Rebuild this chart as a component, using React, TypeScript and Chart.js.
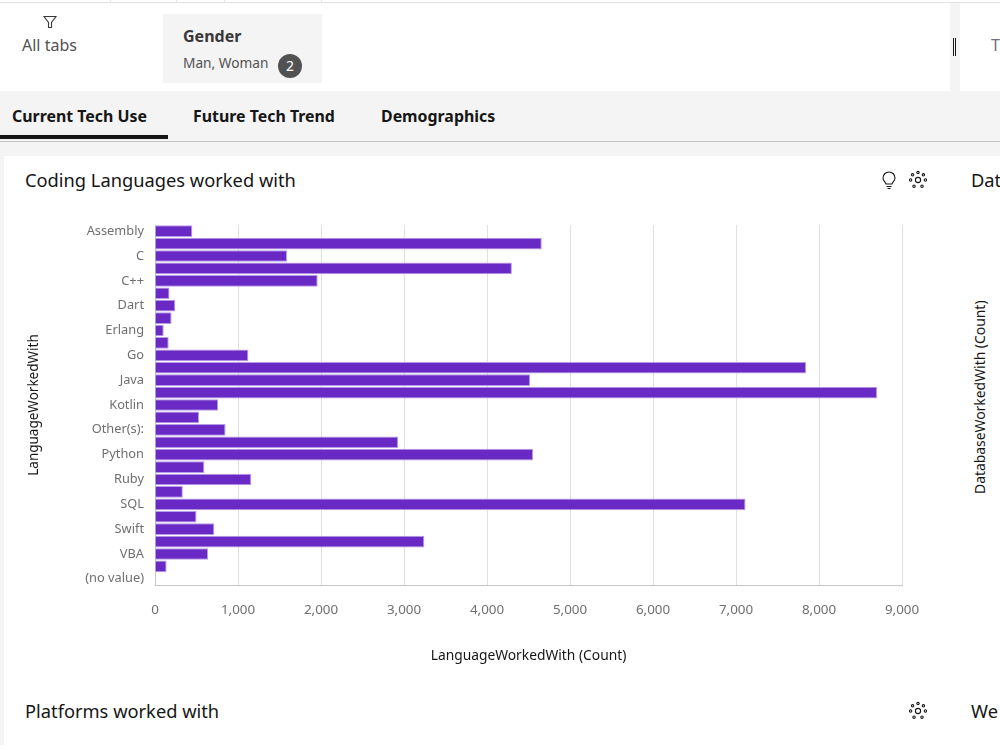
import React, { useEffect, useRef } from 'react';
import { Chart, registerables } from 'chart.js';

Chart.register(...registerables);

const languages = [
  'Assembly', 'Bash/Shell/PowerShell', 'C', 'C#', 'C++', 'Clojure', 'Dart', 'Elixir', 'Erlang', 'F#',
  'Go', 'HTML/CSS', 'Java', 'JavaScript', 'Kotlin', 'Objective-C', 'Other(s):', 'PHP', 'Python', 'R',
  'Ruby', 'Rust', 'SQL', 'Scala', 'Swift', 'TypeScript', 'VBA', 'WebAssembly', '(no value)',
];
const counts = [
  450, 4660, 1590, 4300, 1960, 175, 245, 200, 105, 165,
  1125, 7845, 4520, 8700, 760, 530, 850, 2930, 4555, 595,
  1160, 335, 7115, 500, 715, 3245, 640, 140, 0,
];
const xTicks = [0, 1000, 2000, 3000, 4000, 5000, 6000, 7000, 8000, 9000];
const topTabs = ['Current Tech Use', 'Future Tech Trend', 'Demographics'];

const FONT = '"Noto Sans", sans-serif';

const at = (left: number, top: number, extra: React.CSSProperties = {}): React.CSSProperties => ({
  position: 'absolute',
  left,
  top,
  whiteSpace: 'nowrap',
  lineHeight: 1,
  ...extra,
});

const GearIcon = ({ x, y }: { x: number; y: number }) => (
  <svg style={at(x, y)} width="20" height="20" viewBox="0 0 20 20" fill="none" stroke="#161616" strokeWidth="1.1">
    <circle cx="10" cy="10" r="2.6" />
    {[[10, 2.6], [4.6, 4.8], [15.4, 4.8], [2.6, 10], [17.4, 10], [6, 16.2], [14, 16.2]].map(([cx, cy], i) => (
      <circle key={i} cx={cx} cy={cy} r="1.2" />
    ))}
  </svg>
);

const App = () => {
  const chartRef = useRef<HTMLCanvasElement>(null);

  useEffect(() => {
    document.body.style.margin = '0';
    const ctx = chartRef.current?.getContext('2d');
    if (!ctx) return;
    const chart = new Chart(ctx, {
      type: 'bar',
      data: {
        labels: languages,
        datasets: [
          {
            label: 'LanguageWorkedWith (Count)',
            data: counts,
            backgroundColor: '#6929c4',
            borderColor: '#b79be6',
            borderWidth: 1,
            barPercentage: 0.94,
            categoryPercentage: 1,
          },
        ],
      },
      options: {
        indexAxis: 'y',
        animation: false,
        responsive: false,
        devicePixelRatio: 1,
        layout: { padding: { left: 20, right: 48, top: 69, bottom: 18 } },
        plugins: { legend: { display: false }, tooltip: { enabled: false } },
        scales: {
          x: {
            type: 'linear',
            min: 0,
            max: 9000,
            afterBuildTicks: (scale: any) => {
              scale.ticks = xTicks.map((value) => ({ value }));
            },
            afterFit: (scale: any) => {
              scale.height = 83;
            },
            grid: { color: '#e0e0e0', drawTicks: false },
            border: { color: '#c6c6c6' },
            ticks: {
              color: '#6f6f6f',
              font: { family: FONT, size: 13.4 },
              padding: 17,
              maxRotation: 0,
              callback: (value: any) => Number(value).toLocaleString('en-US'),
            },
            title: {
              display: true,
              text: 'LanguageWorkedWith (Count)',
              color: '#161616',
              font: { family: FONT, size: 13.8 },
            },
          },
          y: {
            afterFit: (scale: any) => {
              scale.width = 135;
            },
            grid: { display: false, drawTicks: false },
            border: { color: '#c6c6c6' },
            ticks: {
              color: '#6f6f6f',
              font: { family: FONT, size: 12.8 },
              padding: 11,
              autoSkip: false,
              callback: (_value: any, index: number) => (index % 2 === 0 ? languages[index] : ''),
            },
            title: {
              display: true,
              text: 'LanguageWorkedWith',
              color: '#161616',
              font: { family: FONT, size: 13.5 },
              padding: { top: 6, bottom: 4 },
            },
          },
        },
      },
    });
    return () => chart.destroy();
  }, []);

  return (
    <div style={{ position: 'relative', width: 1000, height: 750, overflow: 'hidden', background: '#fff', fontFamily: FONT, color: '#161616' }}>
      {/* top strip */}
      <div style={at(0, 2, { width: 1000, height: 1, background: '#e0e0e0' })} />
      {[110, 176, 224, 321].map((x) => (
        <div key={x} style={at(x, 0, { width: 1, height: 2, background: '#e8e8e8' })} />
      ))}
      <svg style={at(42, 14)} width="16" height="16" viewBox="0 0 16 16" fill="none" stroke="#393939" strokeWidth="1.1">
        <path d="M2 2.5 H14 L9.5 8.5 V13.5 H6.5 V8.5 Z" />
      </svg>
      <div style={at(22, 37, { fontSize: 16, color: '#525252' })}>All tabs</div>
      <div style={at(163, 14, { width: 159, height: 69, background: '#f4f4f4' })} />
      <div style={at(183, 28, { fontSize: 16, fontWeight: 700, color: '#393939' })}>Gender</div>
      <div style={at(183, 56, { fontSize: 13.7, color: '#525252' })}>Man, Woman</div>
      <div style={at(278, 54, { width: 24, height: 24, borderRadius: 12, background: '#525252', color: '#fff', fontSize: 14, lineHeight: '24px', textAlign: 'center' })}>2</div>
      <div style={at(950, 3, { width: 10, height: 88, background: '#f4f4f4' })} />
      <div style={at(953, 38, { width: 1, height: 18, background: '#161616' })} />
      <div style={at(955, 38, { width: 1, height: 18, background: '#161616' })} />
      <div style={at(991, 37, { fontSize: 16, color: '#6f6f6f' })}>T</div>

      {/* tab bar */}
      <div style={at(0, 91, { width: 1000, height: 65, background: '#f4f4f4' })} />
      <div style={at(0, 141, { width: 1000, height: 1, background: '#c6c6c6' })} />
      {topTabs.map((tab, i) => (
        <div key={tab} style={at([12, 193, 381][i], 109, { fontSize: 15.9, fontWeight: 700 })}>{tab}</div>
      ))}
      <div style={at(0, 135, { width: 168, height: 4, background: '#161616' })} />

      {/* panel */}
      <div style={at(0, 156, { width: 4, height: 589, background: '#f4f4f4' })} />
      <div style={at(25, 171, { fontSize: 18.3 })}>Coding Languages worked with</div>
      <svg style={at(880, 171)} width="18" height="20" viewBox="0 0 18 20" fill="none" stroke="#161616" strokeWidth="1.1">
        <path d="M6 13 C5.5 11 3 10 3 7 A6 6 0 0 1 15 7 C15 10 12.500 11 12 13 Z" />
        <path d="M6.500 15.500 H11.500 M7.500 17.500 H10.500" />
      </svg>
      <GearIcon x={908} y={170} />
      <div style={at(971, 171, { fontSize: 18.3 })}>Dat</div>
      <div style={at(973, 494, { fontSize: 13.9, transform: 'rotate(-90deg)', transformOrigin: 'left top' })}>DatabaseWorkedWith (Count)</div>
      <div style={at(25, 702, { fontSize: 18.3 })}>Platforms worked with</div>
      <GearIcon x={908} y={701} />
      <div style={at(971, 702, { fontSize: 18.3 })}>We</div>

      <canvas ref={chartRef} width={950} height={530} style={at(0, 156, { display: 'block' })} />
    </div>
  );
};

export default App;
